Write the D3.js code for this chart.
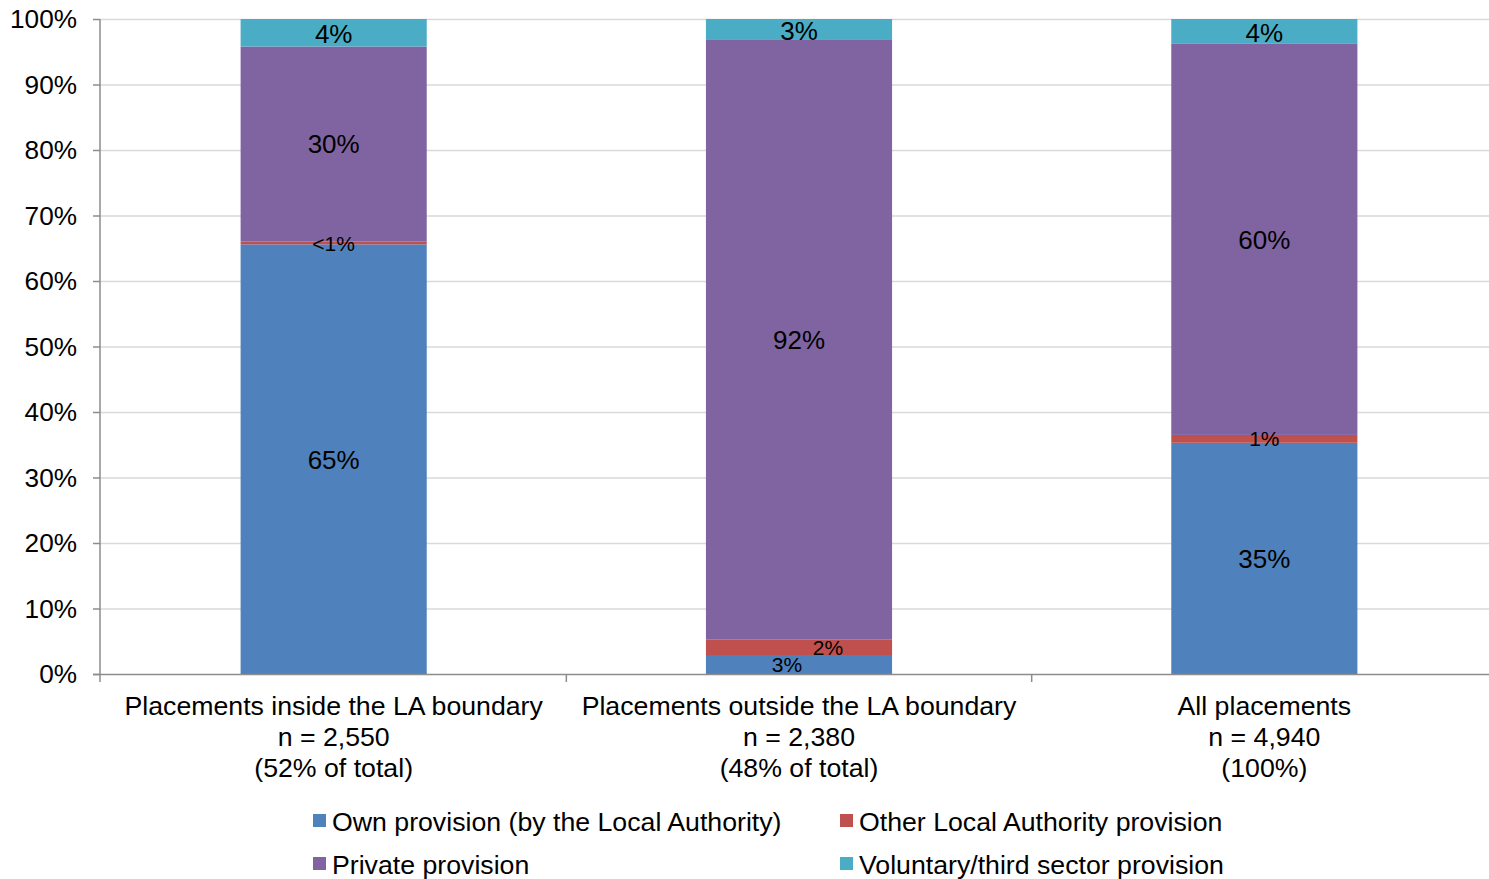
<!DOCTYPE html>
<html>
<head>
<meta charset="utf-8">
<script src="https://cdn.jsdelivr.net/npm/d3@7"></script>
<style>
  html, body { margin: 0; padding: 0; background: #fff; }
  svg { display: block; font-family: "Liberation Sans", Arial, sans-serif; }
</style>
</head>
<body>
<svg id="chart" width="1489" height="879"></svg>
<script>
// ---- Data ----
const categories = ["inside", "outside", "all"];
const categoryLabels = [
  ["Placements inside the LA boundary", "n = 2,550", "(52% of total)"],
  ["Placements outside the LA boundary", "n = 2,380", "(48% of total)"],
  ["All placements", "n = 4,940", "(100%)"]
];
const seriesNames = [
  "Own provision (by the Local Authority)",
  "Other Local Authority provision",
  "Private provision",
  "Voluntary/third sector provision"
];
const ownValues = [65.6, 2.9, 35.3];
const otherValues = [0.4, 2.4, 1.2];
const privateValues = [29.8, 91.5, 59.7];
const voluntaryValues = [4.2, 3.2, 3.8];
const ownLabels = ["65%", "3%", "35%"];
const otherLabels = ["<1%", "2%", "1%"];
const privateLabels = ["30%", "92%", "60%"];
const voluntaryLabels = ["4%", "3%", "4%"];
const yTicks = [0, 10, 20, 30, 40, 50, 60, 70, 80, 90, 100];

// ---- Styling / layout ----
const colors = ["#4F81BD", "#C0504D", "#8064A2", "#4BACC6"];
const margin = { left: 100, top: 19, bottomY: 674, right: 1497 };
const svg = d3.select("#chart");

const x = d3.scaleBand().domain(categories)
  .range([margin.left + 1, margin.right]).paddingInner(0.6).paddingOuter(0.3);
const y = d3.scaleLinear().domain([0, 100]).range([margin.bottomY, margin.top]);

// gridlines
svg.append("g").selectAll("line").data(yTicks.filter(d => d > 0)).join("line")
  .attr("x1", margin.left).attr("x2", 1489)
  .attr("y1", d => y(d) + 0.5).attr("y2", d => y(d) + 0.5)
  .attr("stroke", "#d9d9d9").attr("stroke-width", 1.5);

// stacked data
const rows = categories.map((c, i) => ({
  cat: c,
  own: ownValues[i], other: otherValues[i], private: privateValues[i], voluntary: voluntaryValues[i]
}));
const keys = ["own", "other", "private", "voluntary"];
const labelSets = { own: ownLabels, other: otherLabels, private: privateLabels, voluntary: voluntaryLabels };
const stack = d3.stack().keys(keys)(rows);

const gBars = svg.append("g");
stack.forEach((layer, li) => {
  gBars.selectAll(null).data(layer).join("rect")
    .attr("x", d => x(d.data.cat))
    .attr("width", x.bandwidth())
    .attr("y", d => y(d[1]))
    .attr("height", d => y(d[0]) - y(d[1]))
    .attr("fill", colors[li]);
});

// data labels
const labelDx = { "other-outside": 29, "own-outside": -12 };
stack.forEach((layer, li) => {
  const key = keys[li];
  layer.forEach((d, i) => {
    const small = (d[1] - d[0]) < 3.1 && key !== "voluntary";
    const dx = labelDx[key + "-" + d.data.cat] || 0;
    svg.append("text")
      .attr("x", x(d.data.cat) + x.bandwidth() / 2 + dx)
      .attr("y", (y(d[0]) + y(d[1])) / 2 + (key === "voluntary" ? 1 : 0))
      .attr("dy", "0.36em")
      .attr("text-anchor", "middle")
      .attr("font-size", small ? 21 : 26)
      .attr("fill", "#000")
      .text(labelSets[key][i]);
  });
});

// y axis
const axisColor = "#8c8c8c";
const yAxis = svg.append("g");
yAxis.append("line").attr("x1", margin.left).attr("x2", margin.left)
  .attr("y1", margin.top).attr("y2", margin.bottomY)
  .attr("stroke", axisColor).attr("stroke-width", 1.5);
yAxis.selectAll("line.t").data(yTicks).join("line").attr("class", "t")
  .attr("x1", margin.left - 7).attr("x2", margin.left)
  .attr("y1", d => y(d) + 0.5).attr("y2", d => y(d) + 0.5)
  .attr("stroke", axisColor).attr("stroke-width", 1.5);
yAxis.selectAll("text").data(yTicks).join("text")
  .attr("x", 77).attr("y", d => y(d)).attr("dy", "0.36em")
  .attr("text-anchor", "end").attr("font-size", 26.2).attr("fill", "#000")
  .text(d => d + "%");

// x axis
const xAxis = svg.append("g");
xAxis.append("line").attr("x1", margin.left - 7).attr("x2", 1489)
  .attr("y1", margin.bottomY + 0.5).attr("y2", margin.bottomY + 0.5)
  .attr("stroke", axisColor).attr("stroke-width", 1.5);
const tickXs = [margin.left].concat(categories.slice(1).map(c => x(c) - (x.step() - x.bandwidth()) / 2));
xAxis.selectAll("line.t").data(tickXs).join("line").attr("class", "t")
  .attr("x1", d => d).attr("x2", d => d)
  .attr("y1", margin.bottomY).attr("y2", margin.bottomY + 8)
  .attr("stroke", axisColor).attr("stroke-width", 1.5);
categories.forEach((c, i) => {
  const t = xAxis.append("text")
    .attr("text-anchor", "middle").attr("font-size", 26.7).attr("fill", "#000");
  categoryLabels[i].forEach((line, j) => {
    t.append("tspan").attr("x", x(c) + x.bandwidth() / 2).attr("y", 715 + j * 31).text(line);
  });
});

// legend
const legendPos = [[313, 821], [840, 821], [313, 864], [840, 864]];
const legend = svg.append("g");
seriesNames.forEach((name, i) => {
  const [lx, ly] = legendPos[i];
  legend.append("rect").attr("x", lx).attr("y", ly - 7).attr("width", 13).attr("height", 13)
    .attr("fill", colors[i]);
  legend.append("text").attr("x", lx + 19).attr("y", ly).attr("dy", "0.36em")
    .attr("font-size", 26.7).attr("fill", "#000").text(name);
});
</script>
</body>
</html>
